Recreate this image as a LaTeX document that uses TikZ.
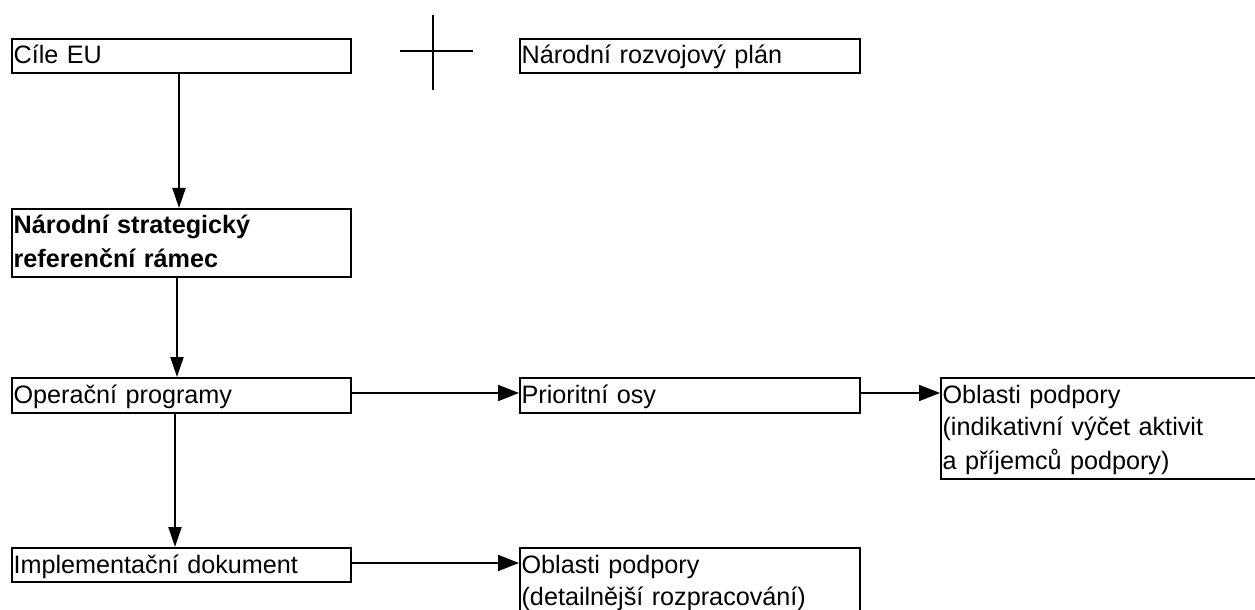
\documentclass[tikz,border=0pt]{standalone}
\usepackage{fontspec}
\setmainfont{Liberation Sans}
\usetikzlibrary{arrows.meta}
\begin{document}
\begin{tikzpicture}[x=0.5pt,y=-0.5pt,
  box/.style={draw, line width=1pt, inner xsep=0.8pt, inner ysep=0pt, anchor=north west,
    align=left, font=\fontsize{12.6pt}{16.5pt}\selectfont, text height=12.5pt},
  varr/.style={line width=1pt, -{Triangle[length=10pt,width=6.5pt]}},
  harr/.style={line width=1pt, -{Triangle[length=10.5pt,width=8pt]}}]
\useasboundingbox (0,0) rectangle (1255,610);
\fill[white] (0,0) rectangle (1255,610);
% boxes
\node[box, text width=167.9pt, text depth=4.5pt] (cile) at (11,38) {Cíle EU};
\node[box, text width=168.4pt, text depth=4.5pt] (nrp) at (519,38) {Národní rozvojový plán};
\node[box, text width=167.9pt, text depth=21.5pt,
  font=\fontsize{12.6pt}{17pt}\selectfont\bfseries] (nsrr) at (11,208)
  {Národní strategický\\referenční rámec};
\node[box, text width=167.9pt, text depth=5pt] (op) at (11,377) {Operační programy};
\node[box, text width=168.4pt, text depth=5pt] (po) at (519,377) {Prioritní osy};
\node[box, text width=160.9pt, text depth=38pt] (obl1) at (940,377)
  {Oblasti podpory\\(indikativní výčet aktivit\\a příjemců podpory)};
\node[box, text width=167.9pt, text depth=4.5pt] (impl) at (11,547) {Implementační dokument};
\node[box, text width=168.4pt, text depth=26.5pt] (obl2) at (519,547)
  {Oblasti podpory\\(detailnější rozpracování)};
% cross
\draw[line width=1pt] (433,15) -- (433,90) (400,51) -- (473,51);
% connectors
\draw[varr] ([xshift=-1.25pt]cile.south) -- ([xshift=-1.25pt]nsrr.north);
\draw[varr] ([xshift=-2.25pt]nsrr.south) -- ([xshift=-2.25pt]op.north);
\draw[varr] ([xshift=-3.25pt]op.south) -- ([xshift=-3.25pt]impl.north);
\draw[harr] ([yshift=1.25pt]op.east) -- ([yshift=1.25pt]po.west);
\draw[harr] ([yshift=1.25pt]po.east) -- ([yshift=1.25pt]po.east -| obl1.west);
\draw[harr] ([yshift=1pt]impl.east) -- ([yshift=1pt]impl.east -| obl2.west);
\end{tikzpicture}
\end{document}
